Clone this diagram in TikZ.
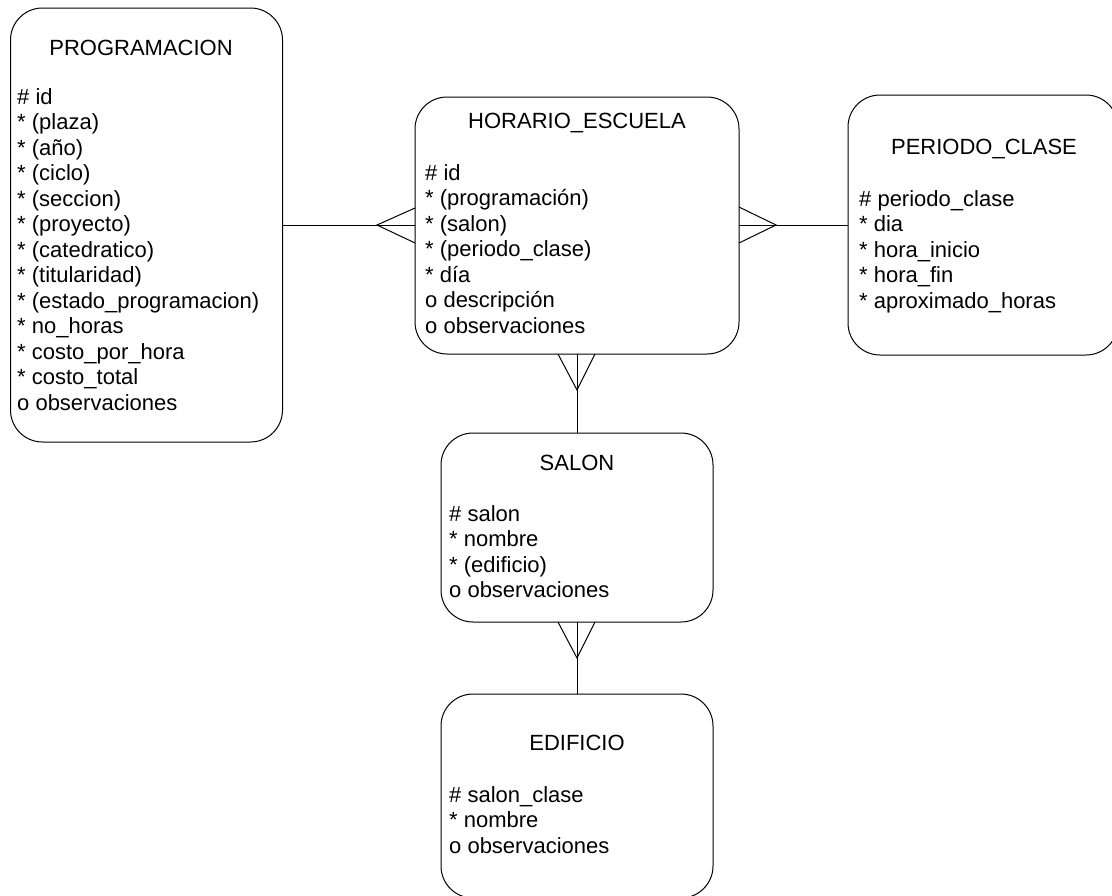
\documentclass[tikz,border=0pt]{standalone}
\usepackage{fontspec}
\setmainfont{Liberation Sans}
\usetikzlibrary{calc}
\begin{document}
\begin{tikzpicture}[x=1pt,y=-1pt,
  entity/.style={draw=black, line width=1pt, rounded corners=32pt, inner sep=0pt, outer sep=0pt},
  etitle/.style={anchor=base, inner sep=0pt, font=\fontsize{22}{25.5}\selectfont},
  attrs/.style={anchor=base west, inner sep=0pt, font=\fontsize{22}{25.5}\selectfont},
  link/.style={draw=black, line width=1pt}]
\useasboundingbox (0,0) rectangle (1112,895);
\clip (0,0) rectangle (1112,895);

% entity boxes
\node[entity, minimum width=272pt, minimum height=434pt] (prog) at (146.5,225) {};
\node[entity, minimum width=324pt, minimum height=257pt] (hor) at (577,225.5) {};
\node[entity, minimum width=270pt, minimum height=260pt] (per) at (983,225) {};
\node[entity, minimum width=272pt, minimum height=189pt] (sal) at (577,527.5) {};
\node[entity, minimum width=272pt, minimum height=204pt] (edi) at (577,796) {};

% titles
\node[etitle] (prog-t) at (141,55) {PROGRAMACION};
\node[etitle] (hor-t) at (577,128) {HORARIO\_ESCUELA};
\node[etitle] (per-t) at (984,154) {PERIODO\_CLASE};
\node[etitle] (sal-t) at (577,470) {SALON};
\node[etitle] (edi-t) at (577,750) {EDIFICIO};

% attribute lists ({*} keeps the star from being read as \\*)
\node[attrs] (prog-a) at (17,104) {\parbox[t]{260pt}{\raggedright
  \# id\\
  {*} (plaza)\\
  {*} (año)\\
  {*} (ciclo)\\
  {*} (seccion)\\
  {*} (proyecto)\\
  {*} (catedratico)\\
  {*} (titularidad)\\
  {*} (estado\_programacion)\\
  {*} no\_horas\\
  {*} costo\_por\_hora\\
  {*} costo\_total\\
  o observaciones}};
\node[attrs] (hor-a) at (425,180) {\parbox[t]{300pt}{\raggedright
  \# id\\
  {*} (programación)\\
  {*} (salon)\\
  {*} (periodo\_clase)\\
  {*} día\\
  o descripción\\
  o observaciones}};
\node[attrs] (per-a) at (859,206) {\parbox[t]{250pt}{\raggedright
  \# periodo\_clase\\
  {*} dia\\
  {*} hora\_inicio\\
  {*} hora\_fin\\
  {*} aproximado\_horas}};
\node[attrs] (sal-a) at (449,521) {\parbox[t]{260pt}{\raggedright
  \# salon\\
  {*} nombre\\
  {*} (edificio)\\
  o observaciones}};
\node[attrs] (edi-a) at (449,802) {\parbox[t]{260pt}{\raggedright
  \# salon\_clase\\
  {*} nombre\\
  o observaciones}};

% relationships
\draw[link] (prog.east) -- (prog.east -| hor.west);
\draw[link] ($(prog.east -| hor.west)+(0,-17)$) -- ($(prog.east -| hor.west)+(-38,0)$) -- ($(prog.east -| hor.west)+(0,18)$);

\draw[link] (per.west -| hor.east) -- (per.west);
\draw[link] ($(per.west -| hor.east)+(0,-18)$) -- ($(per.west -| hor.east)+(37,0)$) -- ($(per.west -| hor.east)+(0,18)$);

\draw[link] (hor.south) -- (sal.north);
\draw[link] ($(hor.south)+(-19,0)$) -- ($(hor.south)+(0,36)$) -- ($(hor.south)+(18,0)$);

\draw[link] (sal.south) -- (edi.north);
\draw[link] ($(sal.south)+(-19,0)$) -- ($(sal.south)+(0,36)$) -- ($(sal.south)+(18,0)$);
\end{tikzpicture}
\end{document}
